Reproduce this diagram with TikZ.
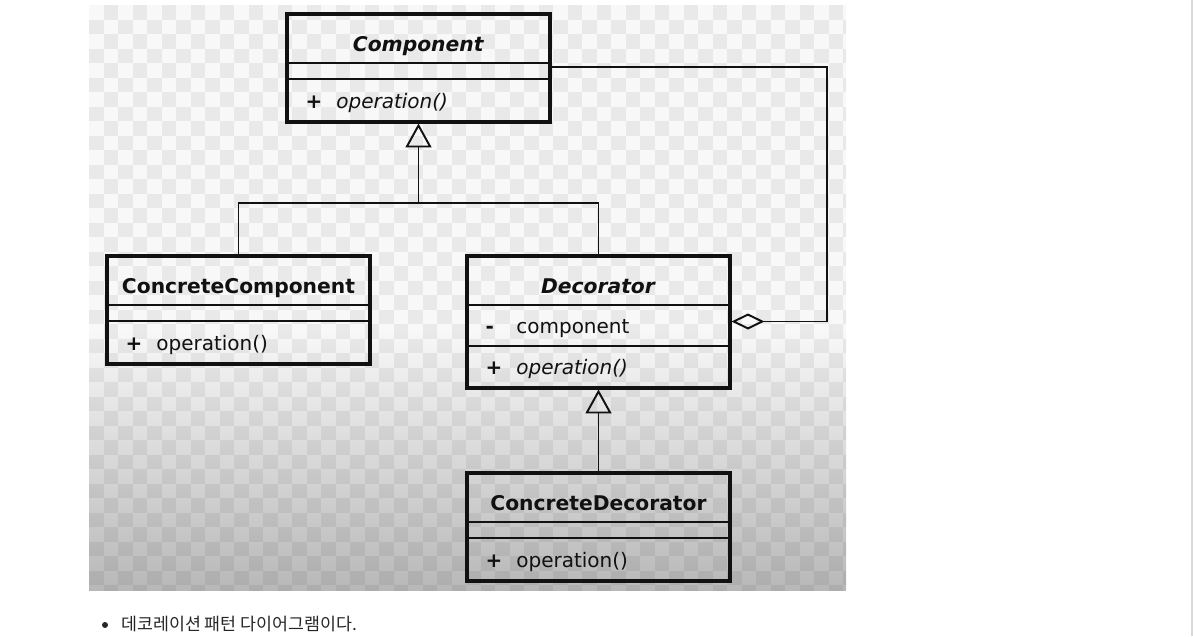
\documentclass[tikz,border=0pt]{standalone}
\usepackage{fontspec}
\setmainfont{DejaVu Sans}
\newfontfamily\kr{Noto Sans CJK KR}
\usetikzlibrary{arrows.meta,positioning}

\definecolor{bgtop}{HTML}{F8F8F8}
\definecolor{bgbot}{HTML}{B8B8B8}
\definecolor{ink}{HTML}{111111}

\tikzset{
  namebox/.style={draw=ink,line width=1pt,minimum width=197.25pt,minimum height=36.75pt,
    inner sep=0pt,outer sep=0pt,text height=20pt,text depth=0pt,text=ink,
    font=\fontsize{15.2}{18}\selectfont\bfseries},
  attrbox/.style={draw=ink,line width=1pt,minimum width=197.25pt,minimum height=12pt,
    inner sep=0pt,outer sep=0pt},
  membox/.style={draw=ink,line width=1pt,minimum width=197.25pt,minimum height=32.25pt,
    text width=169.25pt,align=left,inner xsep=14pt,inner ysep=0pt,outer sep=0pt,
    text height=12pt,text depth=0.75pt,text=ink,font=\fontsize{15}{18}\selectfont},
  frame/.style={draw=ink,line width=3pt},
  conn/.style={draw=ink,line width=1.45pt},
  inherit/.style={conn,-{Triangle[open,length=18pt,width=19.5pt,line width=1.45pt]}},
  aggr/.style={conn,{Diamond[open,length=24.75pt,width=12pt,line width=1.45pt]}-},
  checker/.style={fill=black,fill opacity=0.06}
}
\newcommand{\vis}[1]{\makebox[23pt][l]{\textbf{#1}}}

\begin{document}
\begin{tikzpicture}[x=0.75pt,y=-0.75pt]
\useasboundingbox (0,0) rectangle (1193,636);

% Background picture
\fill[bgtop] (89,5) rectangle (846,330);
\shade[top color=bgtop,bottom color=bgbot] (89,330) rectangle (846,590);
\begin{scope}
\clip (89,5) rectangle (846,590);
\foreach \i in {0,...,52}
  \foreach \j in {0,...,40}{
    \pgfmathparse{int(mod(\i+\j,2))}
    \ifnum\pgfmathresult=1
      \fill[checker] ({89+\i*14.5},{5+\j*14.5}) rectangle ++(14.5,14.5);
    \fi}
\end{scope}

% Component
\node[namebox] (cmpName) at (418.5,38.5) {\textit{Component}};
\node[attrbox,below=0pt of cmpName] (cmpAttr) {};
\node[membox,below=0pt of cmpAttr] (cmpOps) {\vis{+}\textit{operation()}};
\draw[frame] (cmpName.north west) rectangle (cmpOps.south east);

% ConcreteComponent
\node[namebox] (ccName) at (238.5,280.5) {ConcreteComponent};
\node[attrbox,below=0pt of ccName] (ccAttr) {};
\node[membox,below=0pt of ccAttr] (ccOps) {\vis{+}operation()};
\draw[frame] (ccName.north west) rectangle (ccOps.south east);

% Decorator
\node[namebox] (decName) at (598.5,280.5) {\textit{Decorator}};
\node[membox,below=0pt of decName,minimum height=30.75pt] (decAttr) {\vis{-}component};
\node[membox,below=0pt of decAttr,minimum height=31.5pt] (decOps) {\vis{+}\textit{operation()}};
\draw[frame] (decName.north west) rectangle (decOps.south east);

% ConcreteDecorator
\node[namebox] (cdName) at (598.5,497.5) {ConcreteDecorator};
\node[attrbox,below=0pt of cdName] (cdAttr) {};
\node[membox,below=0pt of cdAttr] (cdOps) {\vis{+}operation()};
\draw[frame] (cdName.north west) rectangle (cdOps.south east);

% Inheritance
\coordinate (split) at (418.5,203);
\draw[conn] (ccName.north) |- (split) -| (decName.north);
\draw[inherit] (split) -- ([yshift=-1.1pt]cmpOps.south);
\draw[inherit] (cdName.north) -- ([yshift=-1.1pt]decOps.south);

% Aggregation
\coordinate (aggX) at (827,0);
\draw[aggr] ([shift={(1.1pt,3pt)}]decAttr.east) -- ([yshift=3pt]decAttr.east -| aggX)
  |- ([yshift=3pt]cmpAttr.east);

% Caption
\fill[black!85] (105,625) circle (3);
\node[anchor=west,inner sep=0pt,text=black!85,font=\kr\fontsize{13}{15}\selectfont] (caption)
  at (121,624) {데코레이션 패턴 다이어그램이다.};

% Page edge
\draw[black!15,line width=1pt] (1192,0) -- (1192,636);
\end{tikzpicture}
\end{document}
